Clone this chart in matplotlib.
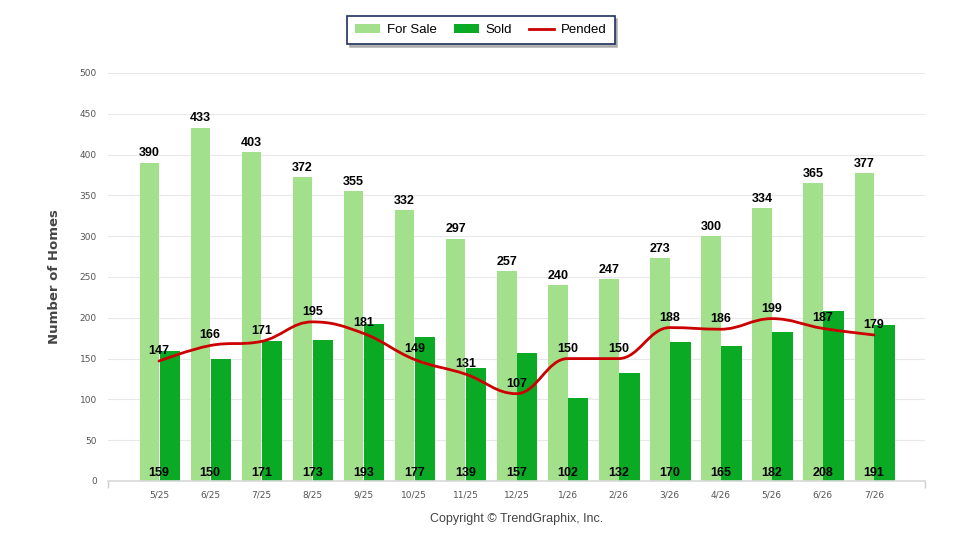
import matplotlib
matplotlib.use("Agg")
import matplotlib.pyplot as plt
from matplotlib.path import Path
from matplotlib.patches import PathPatch, Patch
from matplotlib.lines import Line2D
import numpy as np

months = ["5/25", "6/25", "7/25", "8/25", "9/25", "10/25", "11/25", "12/25",
          "1/26", "2/26", "3/26", "4/26", "5/26", "6/26", "7/26"]
for_sale = [390, 433, 403, 372, 355, 332, 297, 257, 240, 247, 273, 300, 334, 365, 377]
sold = [159, 150, 171, 173, 193, 177, 139, 157, 102, 132, 170, 165, 182, 208, 191]
pended = [147, 166, 171, 195, 181, 149, 131, 107, 150, 150, 188, 186, 199, 187, 179]

C_FS = "#A2E08B"
C_SOLD = "#0BAA24"
C_PEND = "#CC0000"

fig = plt.figure(figsize=(9.6, 5.5), dpi=100)
ax = fig.add_axes([108/960, 69/550, 817/960, 408/550])

x = np.arange(len(months))
w_fs = 0.38
w_s = 0.40
ax.bar(x - w_fs/2, for_sale, width=w_fs, color=C_FS, zorder=2, linewidth=0)
ax.bar(x + 0.01 + w_s/2, sold, width=w_s, color=C_SOLD, zorder=2, linewidth=0)

# Highcharts-style spline
def spline_path(xs, ys, smoothing=1.5):
    n = len(xs)
    verts = [(xs[0], ys[0])]
    codes = [Path.MOVETO]
    ctrl = []
    for i in range(n):
        if i == 0 or i == n - 1:
            ctrl.append(((xs[i], ys[i]), (xs[i], ys[i])))
            continue
        px, py = xs[i], ys[i]
        lx, ly = xs[i-1], ys[i-1]
        nx, ny = xs[i+1], ys[i+1]
        d = smoothing + 1
        lcx = (smoothing * px + lx) / d
        lcy = (smoothing * py + ly) / d
        rcx = (smoothing * px + nx) / d
        rcy = (smoothing * py + ny) / d
        if rcx != lcx:
            corr = ((rcy - lcy) * (rcx - px)) / (rcx - lcx) + py - rcy
            lcy += corr
            rcy += corr
        if lcy > ly and lcy > py:
            lcy = max(ly, py); rcy = 2 * py - lcy
        elif lcy < ly and lcy < py:
            lcy = min(ly, py); rcy = 2 * py - lcy
        if rcy > ny and rcy > py:
            rcy = max(ny, py); lcy = 2 * py - rcy
        elif rcy < ny and rcy < py:
            rcy = min(ny, py); lcy = 2 * py - rcy
        ctrl.append(((lcx, lcy), (rcx, rcy)))
    for i in range(1, n):
        verts += [ctrl[i-1][1], ctrl[i][0], (xs[i], ys[i])]
        codes += [Path.CURVE4] * 3
    return Path(verts, codes)

ax.add_patch(PathPatch(spline_path(list(x.astype(float)), [float(v) for v in pended]),
                       facecolor="none", edgecolor=C_PEND, lw=2, zorder=4,
                       capstyle="round", joinstyle="round"))

lab_font = dict(fontsize=9, fontweight="bold", color="black", family="Liberation Sans",
                ha="center", zorder=6)
for i in range(len(months)):
    ax.text(x[i] - w_fs/2, for_sale[i] + 4, str(for_sale[i]), va="bottom", **lab_font)
    ax.text(x[i], pended[i] + 5, str(pended[i]), va="bottom", **lab_font)
    ax.text(x[i], 3, str(sold[i]), va="bottom", **lab_font)

ax.set_xlim(-1, 15)
ax.set_ylim(0, 500)
ax.set_yticks(range(0, 501, 50))
ax.set_xticks(x)
ax.set_xticklabels(months)
ax.tick_params(axis="x", length=0, pad=7, labelsize=6.5, labelcolor="#555555")
ax.tick_params(axis="y", length=0, pad=8, labelsize=6.5, labelcolor="#555555")
for lbl in ax.get_xticklabels() + ax.get_yticklabels():
    lbl.set_family("DejaVu Sans")
ax.set_xticks([-1, 15], minor=True)
ax.tick_params(axis="x", which="minor", length=5, color="#cccccc", width=1)
ax.grid(axis="y", color="#e8e8e8", lw=0.8, zorder=0)
ax.set_axisbelow(True)
for s in ["top", "right", "left"]:
    ax.spines[s].set_visible(False)
ax.spines["bottom"].set_color("#d8d8d8")
ax.spines["bottom"].set_linewidth(1.2)

fig.text(55/960, 1 - 277/550, "Number of Homes", rotation=90, ha="center", va="center",
         fontsize=9.5, fontweight="bold", color="#444444", family="DejaVu Sans")
fig.text(517/960, 1 - 519/550, "Copyright \u00a9 TrendGraphix, Inc.", ha="center", va="center",
         fontsize=9, color="#444444", family="Liberation Sans")

handles = [Patch(facecolor=C_FS, edgecolor="none", label="For Sale"),
           Patch(facecolor=C_SOLD, edgecolor="none", label="Sold"),
           Line2D([0], [0], color=C_PEND, lw=2, label="Pended")]
leg = fig.legend(handles=handles, loc="upper center", bbox_to_anchor=(481/960, 1 - 16/550),
                 ncol=3, frameon=True, fancybox=False,
                 shadow={"color": "#9a9a9a", "alpha": 0.7}, edgecolor="#1F3060",
                 prop={"family": "Liberation Sans", "size": 9.5}, handlelength=1.9,
                 handleheight=0.7, columnspacing=1.3, handletextpad=0.5,
                 borderpad=0.6, borderaxespad=0)
leg.get_frame().set_linewidth(1.2)

fig.savefig("out.png", dpi=100)
